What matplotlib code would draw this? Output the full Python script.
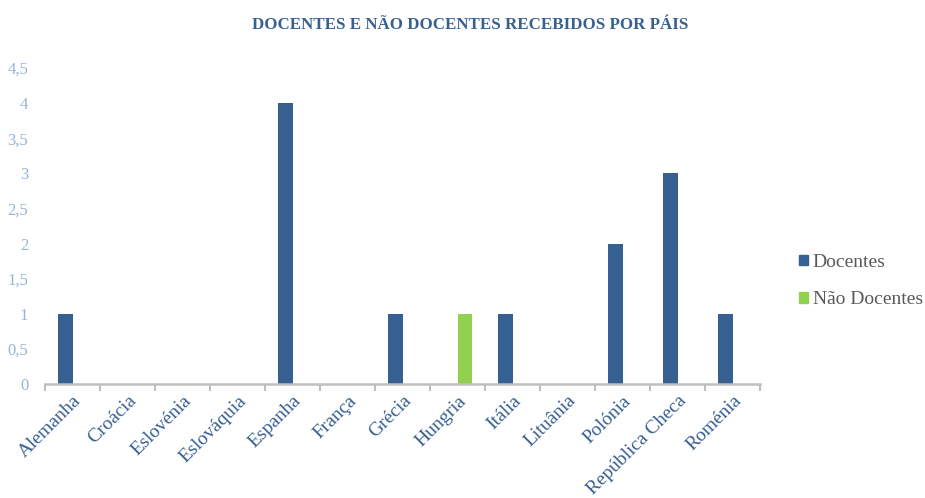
import matplotlib
matplotlib.use("Agg")
import matplotlib.pyplot as plt
import numpy as np
from matplotlib.patches import Patch

paises = ["Alemanha", "Croácia", "Eslovénia", "Eslováquia", "Espanha", "França",
          "Grécia", "Hungria", "Itália", "Lituânia", "Polónia", "República Checa", "Roménia"]
docentes = [1, 0, 0, 0, 4, 0, 1, 0, 1, 0, 2, 3, 1]
nao_docentes = [0, 0, 0, 0, 0, 0, 0, 1, 0, 0, 0, 0, 0]
y_ticks = [0, 0.5, 1, 1.5, 2, 2.5, 3, 3.5, 4, 4.5]
y_labels = ["0", "0,5", "1", "1,5", "2", "2,5", "3", "3,5", "4", "4,5"]

c_doc = "#376092"
c_nao = "#92D050"
serif = ["Liberation Serif", "DejaVu Serif"]
plt.rcParams['font.family'] = serif

fig = plt.figure(figsize=(9.25, 4.98), dpi=100)
ax = fig.add_axes([45/925, 1 - 384/498, (760-45)/925, (384-68)/498])

x = np.arange(len(paises))
w = 0.27
ax.bar(x - w/2, docentes, width=w, color=c_doc, label="Docentes")
ax.bar(x + w/2, nao_docentes, width=w, color=c_nao, label="Não Docentes")

ax.set_xlim(-0.5, len(paises) - 0.5)
ax.set_ylim(0, 4.5)
ax.set_yticks(y_ticks)
ax.set_yticklabels(y_labels, color="#95B3D7", fontsize=12)
ax.tick_params(axis='y', length=0, pad=12)

ax.set_xticks(x)
ax.set_xticklabels(paises, rotation=45, ha="right", va="top", rotation_mode="anchor",
                   color="#376092", fontsize=14)
ax.tick_params(axis='x', which='major', length=0, pad=6)
ax.set_xticks(np.arange(-0.5, len(paises)), minor=True)
ax.tick_params(axis='x', which='minor', length=5, width=1.5, color="#BFBFBF")

for s in ["top", "right", "left"]:
    ax.spines[s].set_visible(False)
ax.spines["bottom"].set_color("#BFBFBF")
ax.spines["bottom"].set_linewidth(1.8)

fig.text(470/925, 1 - 25/498, "DOCENTES E NÃO DOCENTES RECEBIDOS POR PÁIS", ha="center", va="center",
         fontsize=12.2, fontweight="bold", color="#376092")

handles = [Patch(color=c_doc, label="Docentes"), Patch(color=c_nao, label="Não Docentes")]
leg = fig.legend(handles=handles, loc="center left", bbox_to_anchor=(799/925, 1 - 281/498),
                 frameon=False, fontsize=14, handlelength=0.45, handleheight=0.45,
                 handletextpad=0.25, labelspacing=1.05, borderpad=0, borderaxespad=0)
for t in leg.get_texts():
    t.set_color("#595959")

fig.savefig("out.png", dpi=100)
